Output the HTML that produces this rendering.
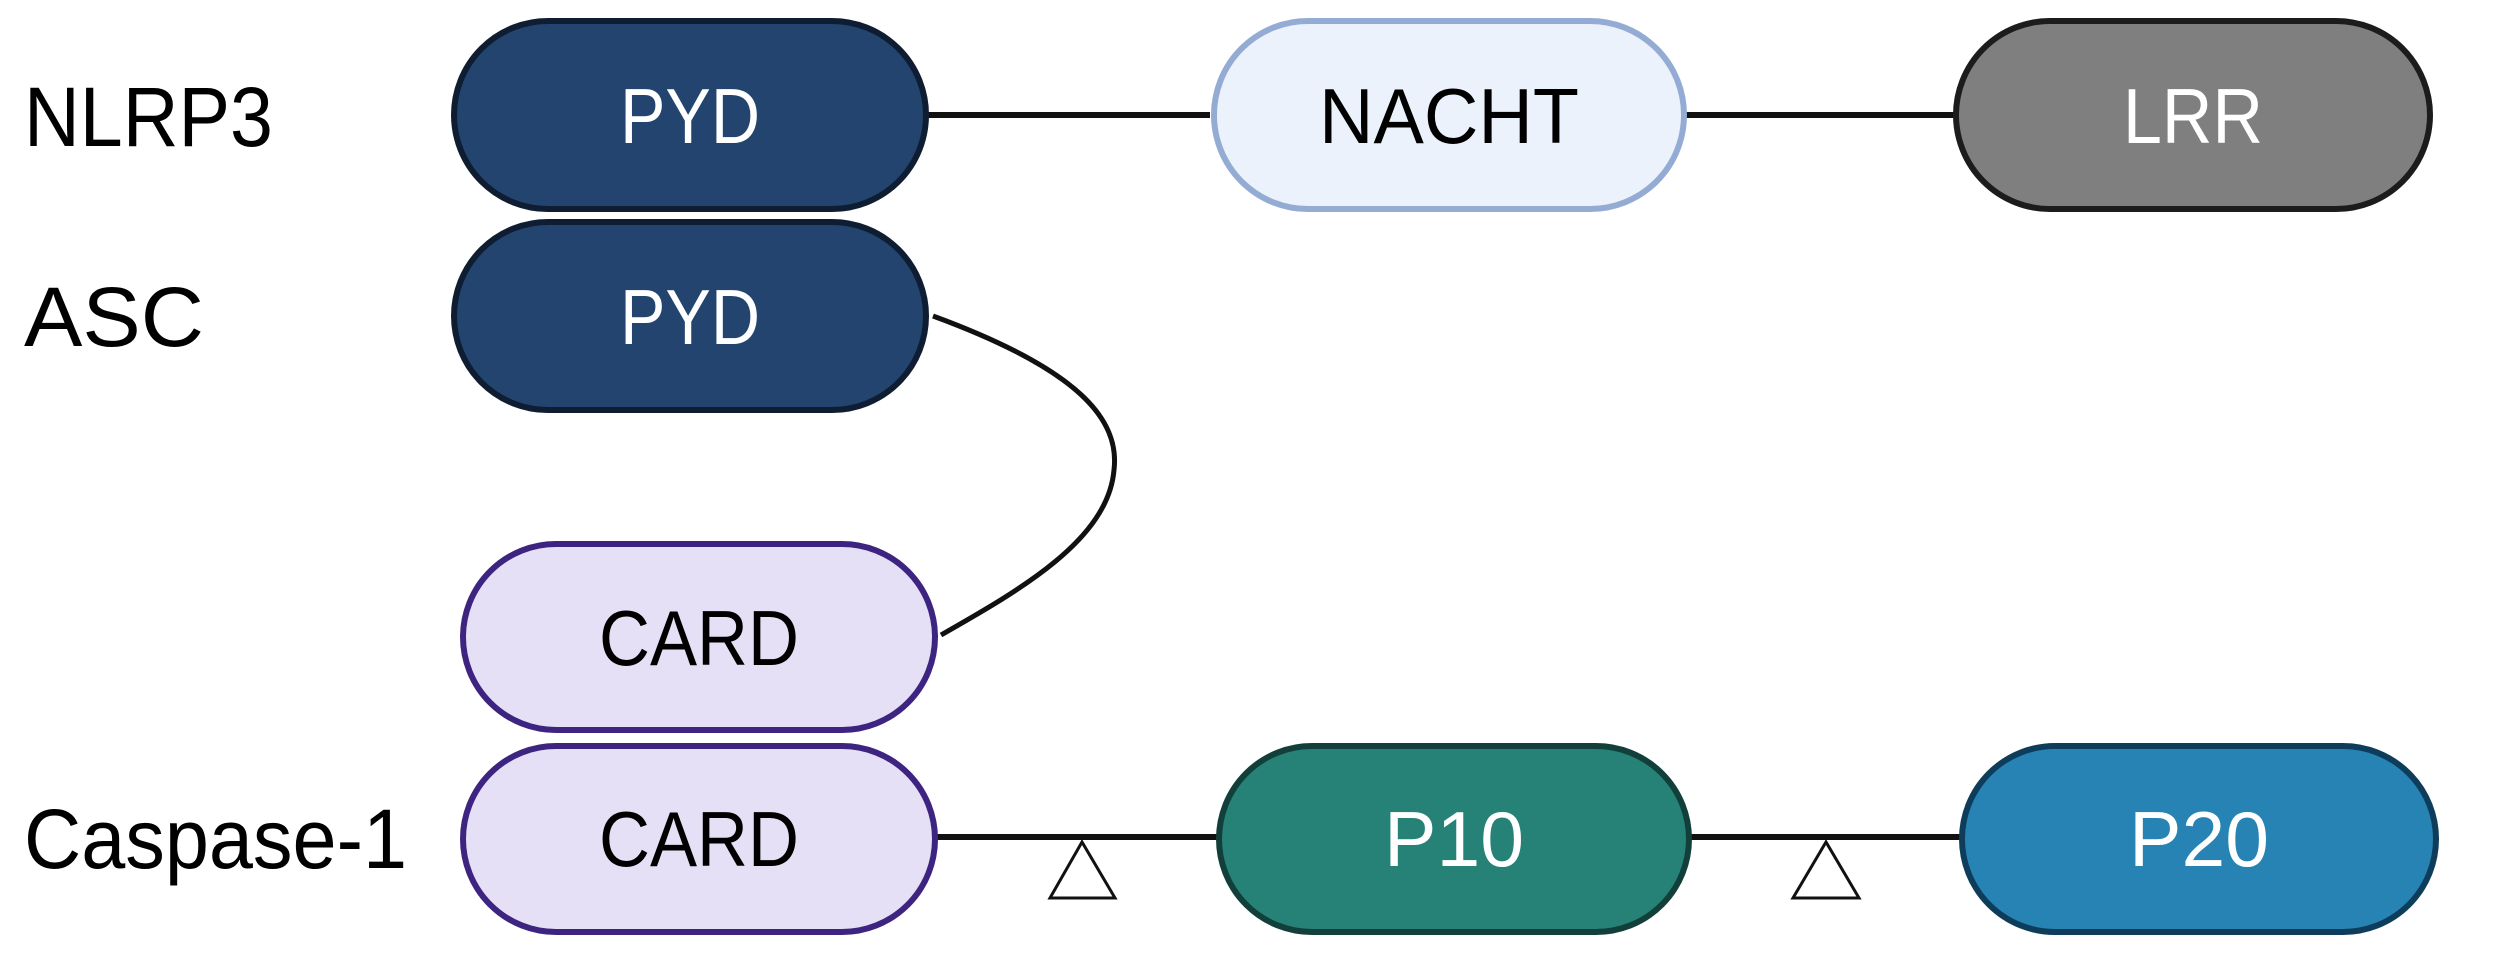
<!DOCTYPE html>
<html><head><meta charset="utf-8"><style>
html,body{margin:0;padding:0;background:#fff;}
svg{display:block;}
text{font-family:"Liberation Sans",sans-serif;}
</style></head><body>
<svg width="2500" height="960" viewBox="0 0 2500 960" xmlns="http://www.w3.org/2000/svg">
<g stroke="#111" stroke-width="6" fill="none">
<line x1="925" y1="115" x2="1210" y2="115"/>
<line x1="1680" y1="115" x2="1955" y2="115"/>
<line x1="935" y1="837" x2="1218" y2="837"/>
<line x1="1690" y1="837" x2="1960" y2="837"/>
<path d="M933 316 C1080 370 1120 420 1114 470 C1108 540 1020 590 941 635" stroke-width="5"/>
</g>
<g stroke="#111" stroke-width="3" fill="#fff">
<polygon points="1082,842 1050,898 1115,898"/>
<polygon points="1826,842 1793,898 1859,898"/>
</g>
<g stroke-width="6">
<rect x="454" y="21" width="472" height="188" rx="94" fill="#22446e" stroke="#0f1d33"/>
<rect x="454" y="222" width="472" height="188" rx="94" fill="#22446e" stroke="#0f1d33"/>
<rect x="1214" y="21" width="470" height="188" rx="94" fill="#ebf2fc" stroke="#94acd3"/>
<rect x="1956" y="21" width="474" height="188" rx="94" fill="#7f7f7f" stroke="#1c1c1c"/>
<rect x="463" y="544" width="472" height="186" rx="93" fill="#e5e0f5" stroke="#3d2480"/>
<rect x="463" y="746" width="472" height="186" rx="93" fill="#e5e0f5" stroke="#3d2480"/>
<rect x="1219" y="746" width="470" height="186" rx="93" fill="#268176" stroke="#123f3a"/>
<rect x="1962" y="746" width="474" height="186" rx="93" fill="#2783b3" stroke="#0d3d5a"/>
</g>
<g font-size="84" fill="#000">
<text x="24" y="146" textLength="249" lengthAdjust="spacingAndGlyphs">NLRP3</text>
<text x="24" y="346" textLength="180" lengthAdjust="spacingAndGlyphs">ASC</text>
<text x="24" y="868" textLength="383" lengthAdjust="spacingAndGlyphs">Caspase-1</text>
</g>
<g font-size="78" text-anchor="middle">
<text x="690" y="143" fill="#fff" textLength="140" lengthAdjust="spacingAndGlyphs">PYD</text>
<text x="690" y="344" fill="#fff" textLength="140" lengthAdjust="spacingAndGlyphs">PYD</text>
<text x="1449" y="143" fill="#000" textLength="260" lengthAdjust="spacingAndGlyphs">NACHT</text>
<text x="2193" y="143" fill="#fff" textLength="140" lengthAdjust="spacingAndGlyphs">LRR</text>
<text x="699" y="665" fill="#000" textLength="200" lengthAdjust="spacingAndGlyphs">CARD</text>
<text x="699" y="866" fill="#000" textLength="200" lengthAdjust="spacingAndGlyphs">CARD</text>
<text x="1454" y="866" fill="#fff" textLength="140" lengthAdjust="spacingAndGlyphs">P10</text>
<text x="2199" y="866" fill="#fff" textLength="140" lengthAdjust="spacingAndGlyphs">P20</text>
</g>
</svg>
</body></html>
